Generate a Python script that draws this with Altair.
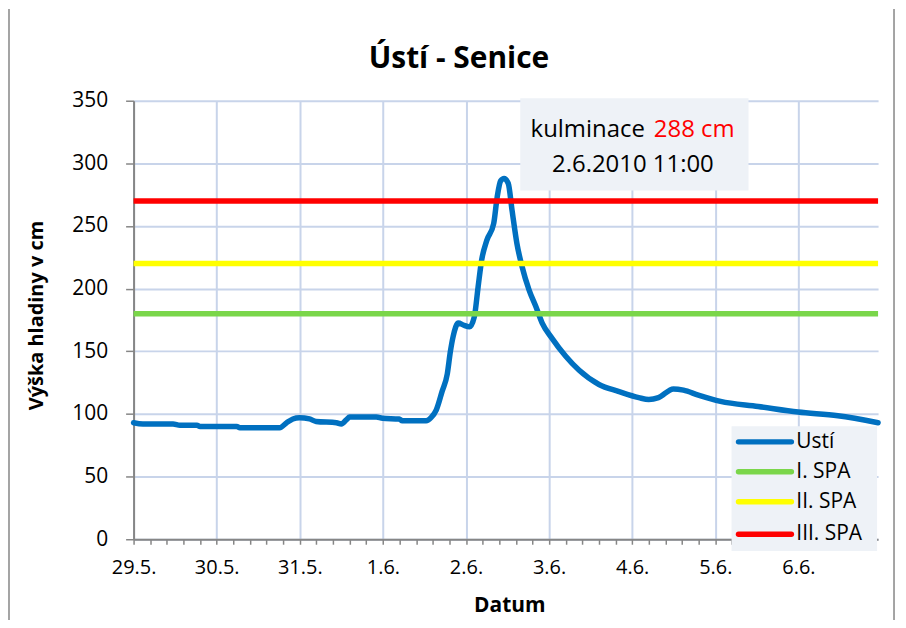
import altair as alt
import pandas as pd

# ---- data ----
title_text = "Ústí - Senice"
x_title = "Datum"
y_title = "Výška hladiny v cm"
x_labels = ["29.5.", "30.5.", "31.5.", "1.6.", "2.6.", "3.6.", "4.6.", "5.6.", "6.6."]
y_ticks = [0, 50, 100, 150, 200, 250, 300, 350]

# hours since 29.5. 00:00
hours = [0, 2.7, 11.4, 13.4, 18.3, 19.2, 29.8, 30.7, 42.2, 44.2,
         46, 47.9, 50.8, 52.7, 58.6, 60, 61.5, 62.4, 70.1, 71.9,
         76.7, 77.6, 84.5, 85.9, 87.4, 89.1, 90.6, 91.5, 92.3, 93.8,
         95.2, 97, 98.4, 99.5, 100.5, 102, 104, 105, 106, 107,
         108.2, 109.3, 110.7, 112.2, 114.2, 116.2, 118, 120.8, 124.8, 128.6,
         134.4, 140, 145.9, 148.8, 151.6, 155.9, 158.8, 163.1, 169.5, 180.4,
         191.9, 203.4, 215]
levels = [93, 92, 92, 91, 91, 90, 90, 89, 89, 93,
          96, 97, 96, 94, 93, 92, 95.5, 97.5, 97.5, 96.5,
          96, 94.5, 94.5, 97, 103, 118, 132, 150, 162, 172.5,
          171, 169.5, 177.5, 201.5, 222.5, 238.5, 252, 273, 286, 288,
          284, 262.5, 236, 217.5, 199, 185.5, 172.5, 160.5, 146, 135,
          123.5, 118, 113, 111.5, 113, 120, 119, 115, 110, 106,
          101.5, 98.5, 93]

series_name = "Ustí"
spa_names = ["I. SPA", "II. SPA", "III. SPA"]
spa_levels = [180, 220, 270]
peak_value = 288
peak_time = "2.6.2010 11:00"

# ---- styles ----
FONT = "Open Sans"
BLUE = "#0070c0"
SPA_COLORS = ["#7ad64a", "#ffff00", "#ff0000"]
GRID = "#c8d4ea"
AX = "#868686"
BOX = "#eef2f7"

W, H = 747, 440
x_scale = alt.Scale(domain=[0, 215], nice=False, zero=False)
y_scale = alt.Scale(domain=[0, 350], nice=False)

tick_vals = [round(k * 4.8, 4) for k in range(45)]
lab_arr = "[" + ",".join("'" + s + "'" for s in x_labels) + "]"

x_axis = alt.Axis(
    values=tick_vals,
    labelExpr="datum.value % 24 == 0 ? " + lab_arr + "[round(datum.value/24)] : ''",
    grid=True,
    gridOpacity={"condition": {"test": "datum.value % 24 == 0", "value": 1}, "value": 0},
    gridColor=GRID, gridWidth=2,
    tickSize=5, tickColor=AX, tickWidth=1.5,
    domainColor=AX, domainWidth=2,
    labelFont=FONT, labelFontSize=20, labelColor="black", labelPadding=13,
    labelBaseline="top", labelFlush=False, labelOverlap=False, labelBound=False,
    title=x_title, titleFont=FONT, titleFontSize=21, titleFontWeight="bold",
    titleColor="black", titleX=377, titleY=73, titleBaseline="alphabetic",
    titleAlign="center",
)
y_axis = alt.Axis(
    values=y_ticks,
    grid=True, gridColor=GRID, gridWidth=2,
    tickSize=8, tickColor=AX, tickWidth=1.5,
    domainColor=AX, domainWidth=2,
    labelFont=FONT, labelFontSize=21, labelColor="black", labelPadding=18,
    title=y_title, titleFont=FONT, titleFontSize=20, titleFontWeight="bold",
    titleColor="black", titleX=-97, titleY=215, titleBaseline="middle",
    titleAlign="center", titleAngle=270,
)

one = pd.DataFrame({"a": [0]})

line_df = pd.DataFrame({"h": hours, "v": levels})
line = alt.Chart(line_df).mark_line(
    color=BLUE, strokeWidth=5.5, interpolate="monotone", strokeCap="round", strokeJoin="round"
).encode(
    x=alt.X("h:Q", scale=x_scale, axis=x_axis),
    y=alt.Y("v:Q", scale=y_scale, axis=y_axis),
)

spa_df = pd.DataFrame({"name": spa_names, "level": spa_levels})
spa = alt.Chart(spa_df).mark_rule(strokeWidth=5.5).encode(
    y=alt.Y("level:Q", scale=y_scale),
    color=alt.Color("name:N", scale=alt.Scale(domain=spa_names, range=SPA_COLORS), legend=None),
)

# annotation box
ann_box = alt.Chart(one).mark_rect(fill=BOX).encode(
    x=alt.value(388), x2=alt.value(617), y=alt.value(-2.5), y2=alt.value(90)
)
ann1 = alt.Chart(one).mark_text(
    text="kulminace", font=FONT, fontSize=24, color="black", align="right", baseline="alphabetic"
).encode(x=alt.value(513), y=alt.value(36.7))
ann2 = alt.Chart(one).mark_text(
    text=f"{peak_value} cm", font=FONT, fontSize=24, color="#ff0000", align="left", baseline="alphabetic"
).encode(x=alt.value(522), y=alt.value(36.7))
ann3 = alt.Chart(one).mark_text(
    text=peak_time, font=FONT, fontSize=24, color="black", align="center", baseline="alphabetic"
).encode(x=alt.value(501), y=alt.value(71.7))

# manual legend
leg_layers = [
    alt.Chart(one).mark_rect(fill=BOX).encode(
        x=alt.value(600), x2=alt.value(746), y=alt.value(326.7), y2=alt.value(451.7)
    )
]
leg_names = [series_name] + spa_names
leg_colors = [BLUE] + SPA_COLORS
row_y = [342.3, 372.3, 402.3, 435]
for nm, col, ry in zip(leg_names, leg_colors, row_y):
    leg_layers.append(
        alt.Chart(one).mark_rule(color=col, strokeWidth=5.5, strokeCap="round").encode(
            x=alt.value(607), x2=alt.value(660), y=alt.value(ry)
        )
    )
    leg_layers.append(
        alt.Chart(one).mark_text(
            text=nm, font=FONT, fontSize=21, color="black", align="left", baseline="middle"
        ).encode(x=alt.value(665), y=alt.value(ry))
    )

# outer chart border (left / right)
border = [
    alt.Chart(one).mark_rule(color=AX, strokeWidth=1.5).encode(
        x=alt.value(-125), y=alt.value(-92), y2=alt.value(524)
    ),
    alt.Chart(one).mark_rule(color=AX, strokeWidth=1.5).encode(
        x=alt.value(763), y=alt.value(-92), y2=alt.value(524)
    ),
]

chart = alt.layer(
    line, spa, ann_box, ann1, ann2, ann3, *leg_layers, *border
).properties(
    width=W, height=H,
    title=alt.TitleParams(
        text=title_text, font=FONT, fontSize=30, fontWeight="bold", color="black",
        anchor="middle", frame="group", baseline="alphabetic", offset=0, dx=-47, dy=90,
    ),
    padding={"left": 126, "top": 92, "right": 20, "bottom": 80},
    autosize="none",
).configure_view(stroke=None)

chart.save("out.html", embed_options={"renderer": "svg", "actions": False})
